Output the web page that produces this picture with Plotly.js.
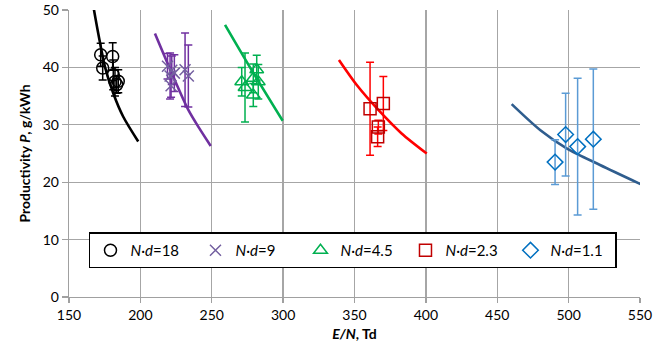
<!DOCTYPE html>
<html>
<head>
<meta charset="utf-8">
<script src="https://cdn.plot.ly/plotly-3.0.1.min.js"></script>
<style>html,body{margin:0;padding:0;background:#fff}#chart{width:672px;height:352px}</style>
</head>
<body>
<div id="chart"></div>
<script>
// ---- data ----
const names = ["<i>N·d</i>=18", "<i>N·d</i>=9", "<i>N·d</i>=4.5", "<i>N·d</i>=2.3", "<i>N·d</i>=1.1"];

const ptsX18 = [172.2, 173.6, 180.6, 181.0, 182.2, 183.4, 184.5];
const ptsY18 = [42.2, 39.9, 41.9, 38.7, 37.5, 37.0, 37.6];
const err18  = [2.0, 2.1, 2.4, 2.6, 2.5, 1.5, 2.0];

const ptsX9 = [219.0, 220.8, 221.5, 222.0, 223.8, 231.3, 233.6];
const ptsY9 = [40.2, 38.5, 36.8, 39.5, 39.0, 39.6, 38.5];
const err9  = [2.2, 4.0, 2.0, 2.5, 3.2, 6.4, 5.4];

const ptsX45 = [271.0, 273.3, 279.1, 279.1, 281.5, 282.6];
const ptsY45 = [37.5, 36.5, 38.1, 35.2, 39.6, 37.5];
const err45  = [2.5, 6.0, 2.5, 2.0, 2.5, 3.0];

const ptsX23 = [360.9, 370.2, 366.7, 366.2];
const ptsY23 = [32.8, 33.7, 29.6, 27.9];
const err23  = [8.1, 4.7, 1.2, 1.7];

const ptsX11 = [490.5, 497.9, 506.3, 517.3];
const ptsY11 = [23.5, 28.3, 26.2, 27.5];
const err11  = [3.9, 7.2, 11.9, 12.2];

const lineX18 = [166.3, 170.5, 175.2, 181.0, 188.0, 198.5];
const lineY18 = [51.7, 45.9, 40.1, 35.5, 31.4, 27.1];
const lineX9 = [210.2, 222.0, 233.6, 241.0, 249.3];
const lineY9 = [45.9, 39.0, 32.6, 29.5, 26.3];
const lineX45 = [259.3, 276.8, 299.7];
const lineY45 = [47.4, 40.0, 30.7];
const lineX23 = [339.1, 352.0, 366.7, 383.0, 400.6];
const lineY23 = [41.3, 36.8, 32.6, 28.5, 25.0];
const lineX11 = [460.1, 480.0, 498.6, 522.0, 551.0];
const lineY11 = [33.6, 29.1, 25.9, 23.0, 19.6];

const xTicks = [150, 200, 250, 300, 350, 400, 450, 500, 550];
const yTicks = [0, 10, 20, 30, 40, 50];

// ---- styling ----
const FONT = "Lato, 'Open Sans', sans-serif";
const series = [
  {px: ptsX18, py: ptsY18, e: err18, lx: lineX18, ly: lineY18, sym: "circle-open", size: 12, mc: "#000000", ec: "#000000", lc: "#000000"},
  {px: ptsX9, py: ptsY9, e: err9, lx: lineX9, ly: lineY9, sym: "x-thin-open", size: 11, mc: "#7460a0", ec: "#7030a0", lc: "#7030a0"},
  {px: ptsX45, py: ptsY45, e: err45, lx: lineX45, ly: lineY45, sym: "triangle-up-open", size: 12, mc: "#00b050", ec: "#00b050", lc: "#00b050"},
  {px: ptsX23, py: ptsY23, e: err23, lx: lineX23, ly: lineY23, sym: "square-open", size: 12, mc: "#c00000", ec: "#ff0000", lc: "#ff0000"},
  {px: ptsX11, py: ptsY11, e: err11, lx: lineX11, ly: lineY11, sym: "diamond-open", size: 12, mc: "#0070c0", ec: "#5b9bd5", lc: "#2f5d8e"}
];

const traces = [];
series.forEach((s, i) => {
  traces.push({
    x: s.lx, y: s.ly, type: "scatter", mode: "lines", showlegend: false,
    line: {color: s.lc, width: 2.6, shape: "spline", smoothing: 0.8}, hoverinfo: "skip"
  });
});
series.forEach((s, i) => {
  traces.push({
    x: s.px, y: s.py, type: "scatter", mode: "markers", name: names[i],
    marker: {symbol: s.sym, size: s.size, color: s.mc, line: {color: s.mc, width: 1.5}},
    error_y: {type: "data", array: s.e, visible: true, color: s.ec, thickness: 1.5, width: 4}
  });
});

const layout = {
  width: 672, height: 352,
  margin: {l: 69, r: 32, t: 10, b: 54.5},
  paper_bgcolor: "#ffffff", plot_bgcolor: "#ffffff",
  font: {family: FONT, size: 14, color: "#000000"},
  showlegend: true,
  legend: {
    orientation: "h", x: 0.035, y: 0.225, xanchor: "left", yanchor: "top",
    bgcolor: "#ffffff", bordercolor: "#000000", borderwidth: 1.5,
    font: {family: FONT, size: 15, color: "#000000"},
    entrywidth: 60, entrywidthmode: "pixels",
    itemwidth: 30
  },
  xaxis: {
    range: [150, 550], tickvals: xTicks, ticktext: xTicks.map(String),
    showgrid: true, gridcolor: "#a6a6a6", gridwidth: 1.3,
    showline: true, linecolor: "#a0a0a0", linewidth: 1.3,
    ticks: "outside", ticklen: 5, tickcolor: "#a0a0a0", tickwidth: 1.3,
    zeroline: false, tickfont: {family: FONT, size: 14},
    title: {text: "<b><i>E/N</i>, Td</b>", font: {family: FONT, size: 14}, standoff: 7}
  },
  yaxis: {
    range: [0, 50], tickvals: yTicks, ticktext: yTicks.map(String),
    showgrid: true, gridcolor: "#a6a6a6", gridwidth: 1.3,
    showline: true, linecolor: "#a0a0a0", linewidth: 1.3,
    ticks: "outside", ticklen: 6, tickcolor: "#a0a0a0", tickwidth: 1.3,
    zeroline: false, tickfont: {family: FONT, size: 14},
    title: {text: "<b>Productivity <i>P</i>, g/kWh</b>", font: {family: FONT, size: 14}, standoff: 8}
  }
};

Plotly.newPlot("chart", traces, layout, {displayModeBar: false, staticPlot: true});
</script>
</body>
</html>
